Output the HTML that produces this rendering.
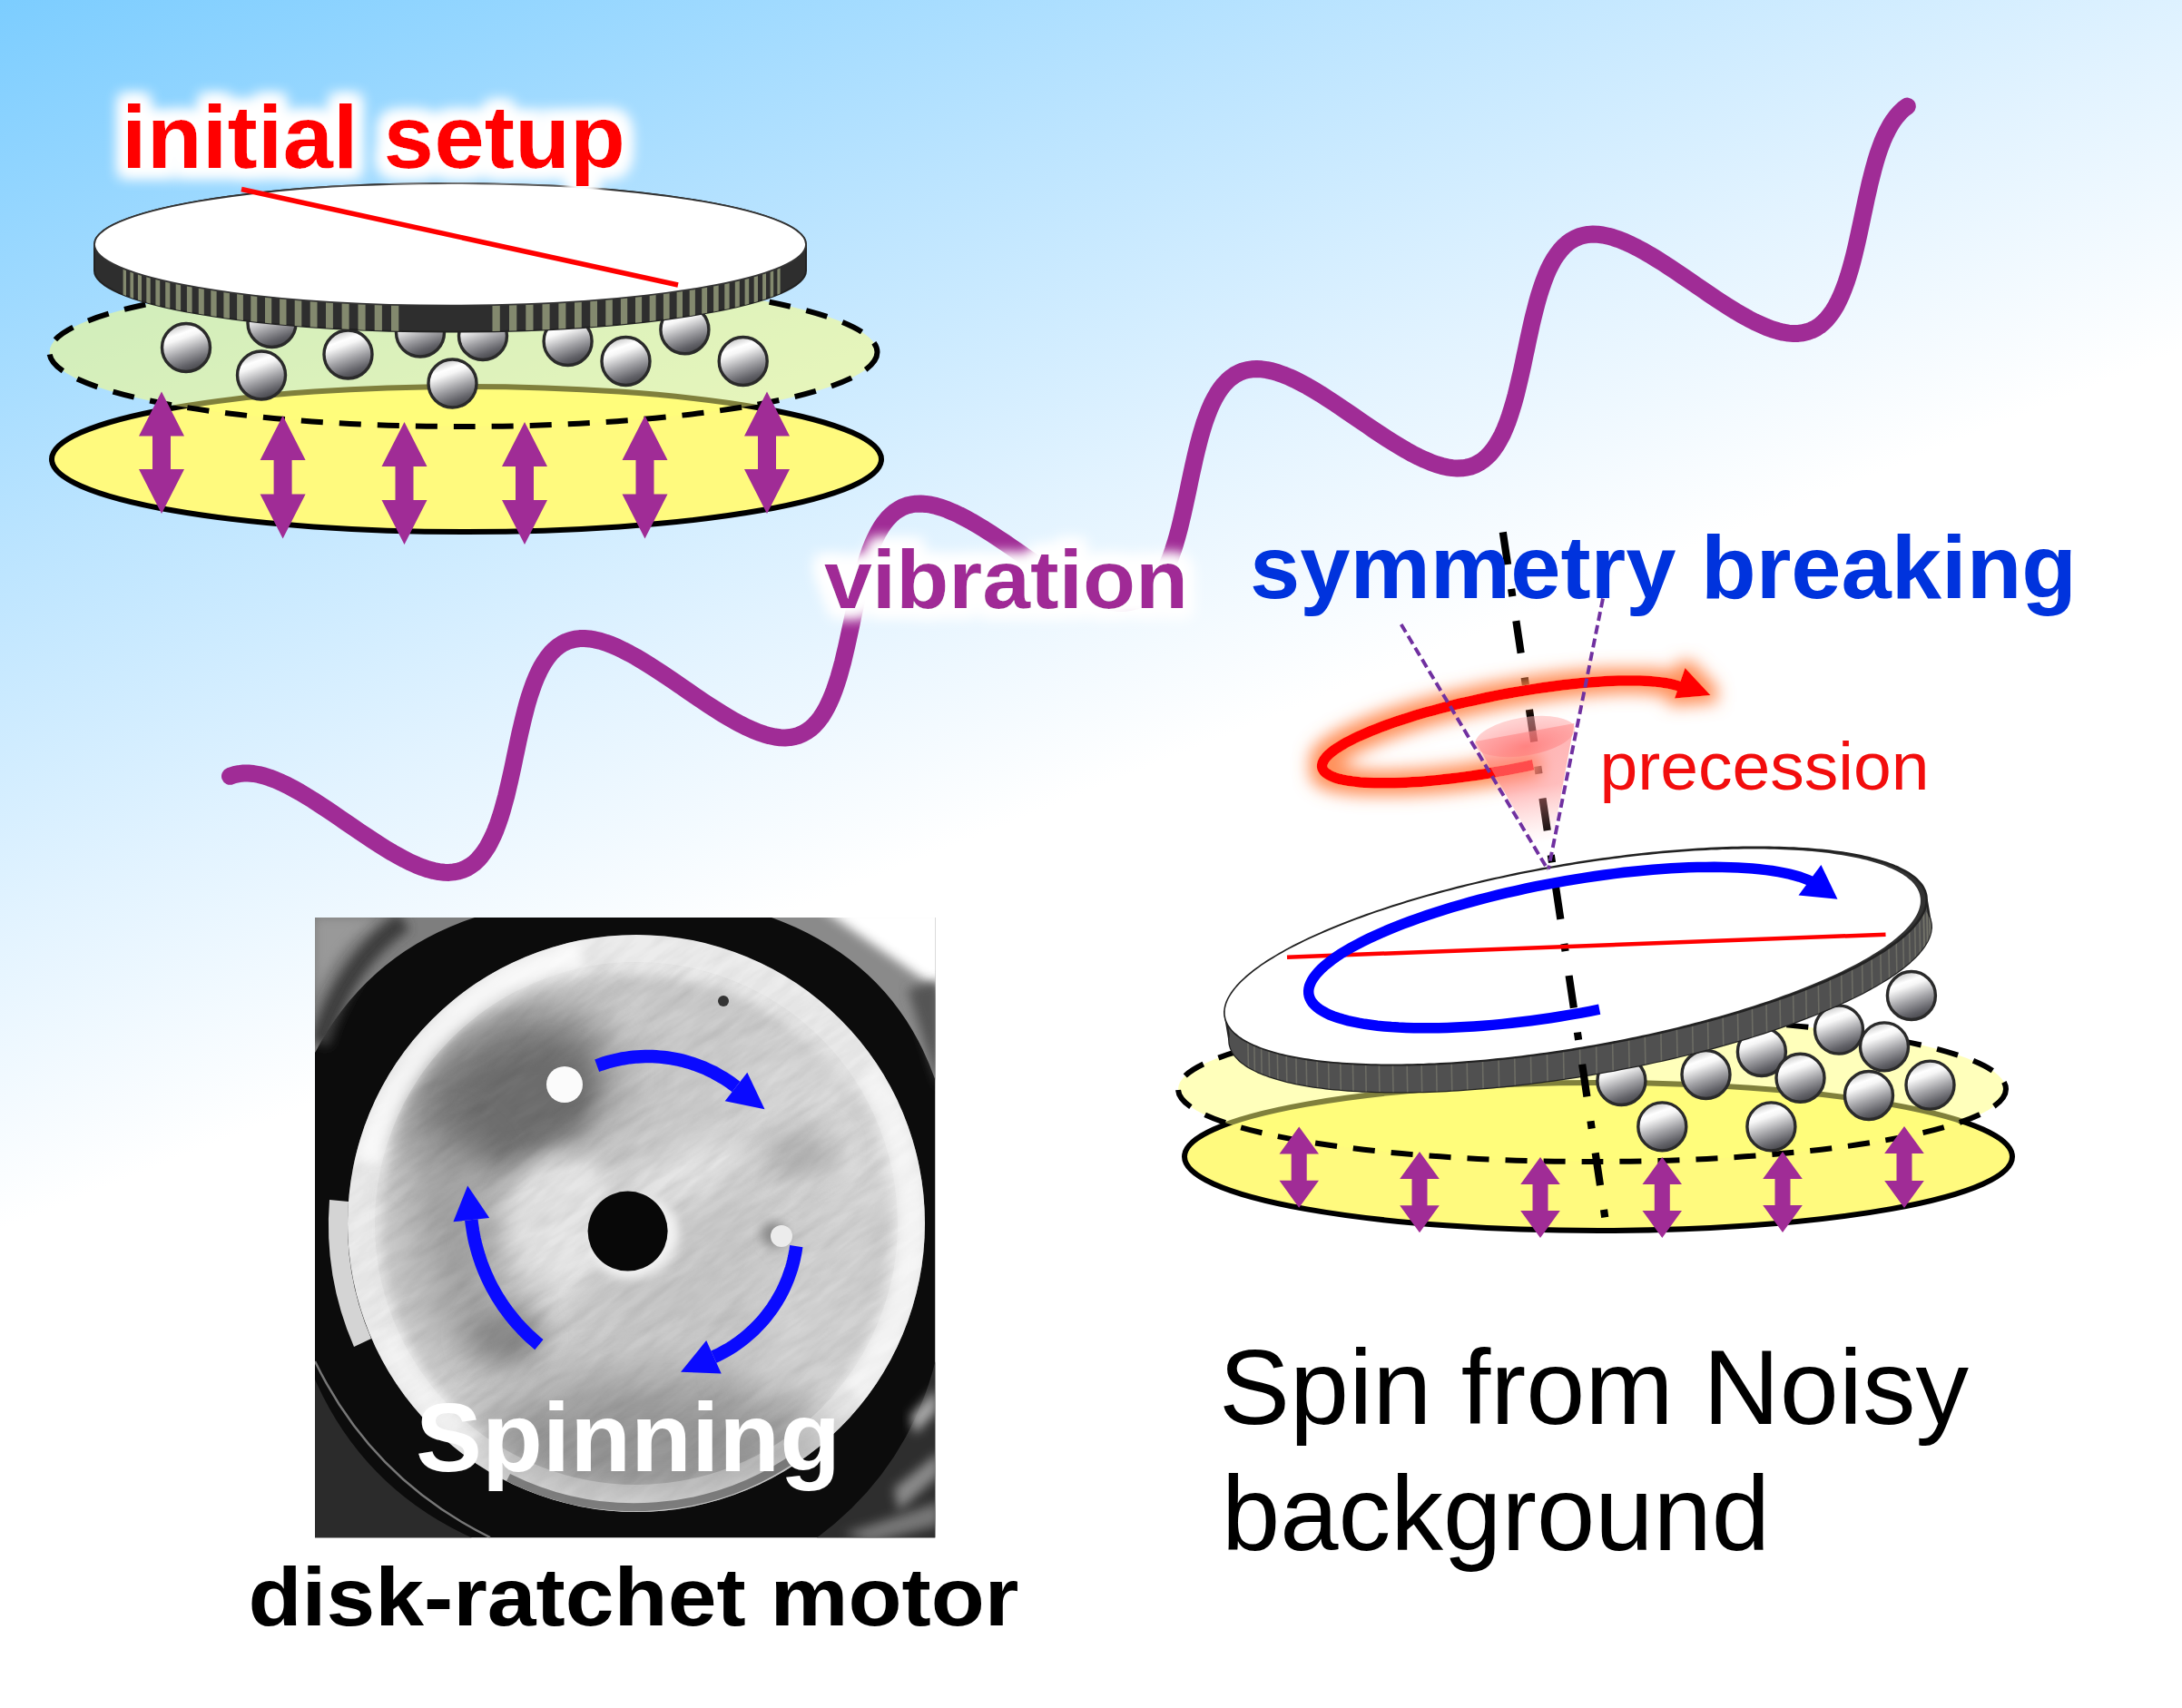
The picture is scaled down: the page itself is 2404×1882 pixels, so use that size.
<!DOCTYPE html>
<html><head><meta charset="utf-8"><title>Spin from Noisy background</title>
<style>html,body{margin:0;padding:0;background:#fff}svg{display:block}
text{font-family:"Liberation Sans",sans-serif}</style></head><body>
<svg width="2404" height="1882" viewBox="0 0 2404 1882">
<defs>
<linearGradient id="bg" gradientUnits="userSpaceOnUse" x1="0" y1="0" x2="470" y2="1166">
<stop offset="0" stop-color="#7ccdff"/><stop offset="0.45" stop-color="#bbe4ff"/><stop offset="0.75" stop-color="#e2f3ff"/><stop offset="1" stop-color="#ffffff"/></linearGradient>
<linearGradient id="ballg" x1="0.32" y1="0.02" x2="0.66" y2="0.98">
<stop offset="0" stop-color="#c4c4c4"/><stop offset="0.2" stop-color="#ffffff"/><stop offset="0.3" stop-color="#f6f6f6"/><stop offset="0.6" stop-color="#a2a2a6"/><stop offset="0.85" stop-color="#626268"/><stop offset="1" stop-color="#45454a"/></linearGradient>
<filter id="glowW" x="-10%" y="-40%" width="120%" height="180%">
<feMorphology in="SourceAlpha" operator="dilate" radius="9" result="d"/>
<feGaussianBlur in="d" stdDeviation="7.5" result="b"/>
<feFlood flood-color="#ffffff"/><feComposite in2="b" operator="in" result="g"/>
<feMerge><feMergeNode in="g"/><feMergeNode in="g"/><feMergeNode in="SourceGraphic"/></feMerge></filter>
<filter id="glowR" x="-20%" y="-60%" width="140%" height="220%">
<feMorphology in="SourceAlpha" operator="dilate" radius="8" result="d"/>
<feGaussianBlur in="d" stdDeviation="9" result="b"/>
<feFlood flood-color="#ff8448" flood-opacity="0.9"/><feComposite in2="b" operator="in" result="g"/>
<feMerge><feMergeNode in="g"/><feMergeNode in="SourceGraphic"/></feMerge></filter>
<linearGradient id="coneg" gradientUnits="userSpaceOnUse" x1="1680" y1="800" x2="1703" y2="935">
<stop offset="0" stop-color="#ff8080" stop-opacity="0.6"/><stop offset="0.5" stop-color="#ff8888" stop-opacity="0.55"/><stop offset="0.95" stop-color="#ffb0b0" stop-opacity="0"/></linearGradient>
<radialGradient id="conetop" cx="0.5" cy="0.75" r="0.7">
<stop offset="0" stop-color="#ff6060"/><stop offset="1" stop-color="#ffb0b0"/></radialGradient>
</defs>
<rect width="2404" height="1882" fill="url(#bg)"/>

<path d="M253.5 855.3 L258.2 853.6 L263.2 852.6 L268.3 852.0 L273.7 852.0 L279.2 852.5 L285.0 853.5 L291.0 855.0 L297.1 857.0 L303.5 859.4 L310.0 862.2 L316.6 865.4 L323.4 869.0 L330.4 872.9 L337.4 877.1 L344.6 881.5 L351.8 886.2 L359.1 891.0 L366.4 895.9 L373.8 901.0 L381.2 906.1 L388.6 911.1 L396.0 916.2 L403.4 921.2 L410.7 926.0 L418.0 930.7 L425.1 935.2 L432.2 939.5 L439.2 943.4 L446.0 947.1 L452.7 950.4 L459.2 953.3 L465.6 955.8 L471.8 957.9 L477.8 959.5 L483.6 960.6 L489.3 961.2 L494.7 961.4 L499.9 960.9 L504.9 960.0 L509.6 958.5 L514.2 956.5 L518.5 953.9 L522.7 950.8 L526.6 947.1 L530.3 942.9 L533.8 938.2 L537.1 933.1 L540.2 927.4 L543.1 921.4 L545.9 914.9 L548.5 908.0 L551.0 900.7 L553.3 893.2 L555.5 885.3 L557.7 877.2 L559.7 868.8 L561.7 860.3 L563.6 851.7 L565.5 842.9 L567.3 834.1 L569.2 825.3 L571.0 816.6 L572.9 807.9 L574.9 799.3 L576.9 790.9 L579.0 782.7 L581.1 774.7 L583.4 767.0 L585.9 759.7 L588.4 752.6 L591.1 746.0 L594.0 739.7 L597.0 733.9 L600.3 728.6 L603.7 723.7 L607.3 719.3 L611.1 715.5 L615.2 712.1 L619.4 709.3 L623.9 707.1 L628.6 705.4 L633.5 704.2 L638.6 703.6 L644.0 703.5 L649.5 703.9 L655.3 704.9 L661.2 706.3 L667.3 708.2 L673.6 710.5 L680.1 713.3 L686.7 716.5 L693.5 720.0 L700.4 723.8 L707.5 728.0 L714.6 732.4 L721.8 737.0 L729.1 741.8 L736.4 746.7 L743.8 751.7 L751.2 756.8 L758.6 761.9 L766.0 767.0 L773.4 772.0 L780.7 776.9 L788.0 781.6 L795.2 786.1 L802.3 790.4 L809.2 794.4 L816.1 798.1 L822.8 801.4 L829.4 804.4 L835.8 807.0 L842.0 809.1 L848.0 810.8 L853.9 812.0 L859.5 812.7 L865.0 812.9 L870.2 812.6 L875.2 811.7 L880.0 810.3 L884.6 808.3 L889.0 805.8 L893.2 802.8 L897.1 799.2 L900.8 795.1 L904.4 790.5 L907.7 785.4 L910.8 779.9 L913.8 773.8 L916.6 767.4 L919.2 760.6 L921.7 753.4 L924.1 745.9 L926.3 738.0 L928.5 729.9 L930.5 721.6 L932.5 713.1 L934.4 704.5 L936.3 695.8 L938.2 687.0 L940.0 678.2 L941.9 669.4 L943.8 660.7 L945.7 652.1 L947.7 643.7 L949.8 635.5 L951.9 627.5 L954.2 619.7 L956.6 612.3 L959.1 605.2 L961.8 598.5 L964.7 592.2 L967.7 586.3 L970.9 580.9 L974.3 575.9 L977.9 571.5 L981.7 567.6 L985.7 564.1 L989.9 561.3 L994.3 558.9 L999.0 557.1 L1003.9 555.9 L1009.0 555.2 L1014.3 555.0 L1019.8 555.4 L1025.5 556.2 L1031.4 557.6 L1037.5 559.4 L1043.8 561.7 L1050.2 564.4 L1056.9 567.5 L1063.6 571.0 L1070.5 574.8 L1077.5 578.9 L1084.6 583.2 L1091.8 587.8 L1099.1 592.6 L1106.5 597.5 L1113.8 602.5 L1121.2 607.6 L1128.6 612.7 L1136.0 617.8 L1143.4 622.8 L1150.7 627.7 L1158.0 632.4 L1165.2 637.0 L1172.3 641.3 L1179.3 645.3 L1186.2 649.1 L1192.9 652.5 L1199.5 655.5 L1205.9 658.2 L1212.2 660.4 L1218.2 662.1 L1224.1 663.4 L1229.8 664.2 L1235.3 664.5 L1240.6 664.2 L1245.6 663.4 L1250.5 662.1 L1255.1 660.2 L1259.5 657.8 L1263.7 654.8 L1267.6 651.3 L1271.4 647.3 L1275.0 642.8 L1278.3 637.8 L1281.5 632.3 L1284.5 626.3 L1287.3 619.9 L1290.0 613.2 L1292.5 606.0 L1294.9 598.5 L1297.1 590.8 L1299.3 582.7 L1301.3 574.4 L1303.3 566.0 L1305.2 557.4 L1307.1 548.7 L1309.0 539.9 L1310.8 531.1 L1312.7 522.3 L1314.6 513.6 L1316.5 505.0 L1318.5 496.5 L1320.6 488.2 L1322.7 480.2 L1325.0 472.4 L1327.3 464.9 L1329.9 457.8 L1332.5 451.0 L1335.3 444.6 L1338.3 438.7 L1341.5 433.2 L1344.9 428.2 L1348.4 423.7 L1352.2 419.7 L1356.2 416.2 L1360.4 413.2 L1364.8 410.8 L1369.4 408.9 L1374.2 407.6 L1379.3 406.8 L1384.6 406.6 L1390.0 406.8 L1395.7 407.6 L1401.6 408.9 L1407.7 410.7 L1413.9 412.9 L1420.4 415.5 L1427.0 418.5 L1433.7 422.0 L1440.6 425.7 L1447.6 429.8 L1454.7 434.1 L1461.9 438.7 L1469.1 443.4 L1476.5 448.3 L1483.8 453.3 L1491.2 458.4 L1498.6 463.5 L1506.0 468.5 L1513.4 473.6 L1520.8 478.5 L1528.0 483.2 L1535.2 487.8 L1542.4 492.2 L1549.4 496.3 L1556.3 500.1 L1563.0 503.5 L1569.6 506.6 L1576.1 509.3 L1582.4 511.6 L1588.5 513.4 L1594.4 514.8 L1600.1 515.6 L1605.6 516.0 L1610.9 515.8 L1616.0 515.1 L1620.9 513.9 L1625.5 512.1 L1629.9 509.7 L1634.2 506.9 L1638.2 503.4 L1642.0 499.5 L1645.6 495.0 L1648.9 490.1 L1652.1 484.7 L1655.2 478.8 L1658.0 472.5 L1660.7 465.8 L1663.2 458.7 L1665.6 451.2 L1667.9 443.5 L1670.1 435.5 L1672.1 427.2 L1674.1 418.8 L1676.1 410.2 L1678.0 401.5 L1679.8 392.7 L1681.7 383.9 L1683.5 375.2 L1685.4 366.4 L1687.3 357.8 L1689.3 349.3 L1691.4 341.0 L1693.5 332.9 L1695.7 325.1 L1698.1 317.6 L1700.6 310.4 L1703.2 303.6 L1706.0 297.1 L1709.0 291.1 L1712.1 285.5 L1715.5 280.5 L1719.0 275.9 L1722.7 271.8 L1726.7 268.2 L1730.8 265.2 L1735.2 262.7 L1739.8 260.7 L1744.6 259.3 L1749.6 258.4 L1754.9 258.1 L1760.3 258.3 L1766.0 259.0 L1771.8 260.2 L1777.9 261.9 L1784.1 264.0 L1790.5 266.6 L1797.1 269.6 L1803.8 273.0 L1810.6 276.7 L1817.6 280.7 L1824.7 285.0 L1831.9 289.5 L1839.1 294.2 L1846.5 299.1 L1853.8 304.1 L1861.2 309.1 L1868.6 314.2 L1876.0 319.3 L1883.4 324.4 L1890.8 329.3 L1898.1 334.1 L1905.3 338.7 L1912.4 343.1 L1919.4 347.2 L1926.3 351.1 L1933.1 354.6 L1939.8 357.7 L1946.2 360.5 L1952.5 362.8 L1958.7 364.7 L1964.6 366.2 L1970.4 367.1 L1975.9 367.5 L1981.2 367.4 L1986.3 366.8 L1991.2 365.6 L1995.9 363.9 L2000.4 361.7 L2004.7 358.9 L2008.7 355.5 L2012.5 351.7 L2016.1 347.3 L2019.6 342.4 L2022.8 337.1 L2025.8 331.2 L2028.7 325.0 L2031.4 318.3 L2034.0 311.3 L2036.4 303.9 L2038.7 296.2 L2040.9 288.2 L2043.0 280.0 L2045.0 271.6 L2046.9 263.1 L2048.8 254.4 L2050.7 245.6 L2052.5 236.8 L2054.4 228.0 L2056.2 219.3 L2058.2 210.6 L2060.1 202.1 L2062.2 193.8 L2064.3 185.7 L2066.5 177.8 L2068.8 170.2 L2071.3 163.0 L2073.9 156.1 L2076.7 149.6 L2079.7 143.5 L2082.8 137.9 L2086.1 132.7 L2089.6 128.1 L2093.3 123.9 L2097.2 120.2 L2101.3 117.1" fill="none" stroke="#a02c96" stroke-width="19" stroke-linecap="round" stroke-linejoin="round"/>
<g id="setupL">
<ellipse cx="514" cy="506" rx="457" ry="80" fill="#fffa7e" stroke="#000" stroke-width="6"/>
<ellipse cx="510.5" cy="388" rx="456" ry="82" fill="#ffff78" fill-opacity="0.5" stroke="none"/>
<ellipse cx="510.5" cy="388" rx="456" ry="82" fill="none" stroke="#000" stroke-width="6" stroke-dasharray="24 18"/>
<circle cx="205.0" cy="383.0" r="26.5" fill="url(#ballg)" stroke="#2a2a2a" stroke-width="3.4"/>
<circle cx="299.5" cy="356.0" r="26.5" fill="url(#ballg)" stroke="#2a2a2a" stroke-width="3.4"/>
<circle cx="288.0" cy="413.5" r="26.5" fill="url(#ballg)" stroke="#2a2a2a" stroke-width="3.4"/>
<circle cx="383.5" cy="390.5" r="26.5" fill="url(#ballg)" stroke="#2a2a2a" stroke-width="3.4"/>
<circle cx="463.0" cy="366.5" r="26.5" fill="url(#ballg)" stroke="#2a2a2a" stroke-width="3.4"/>
<circle cx="532.0" cy="370.0" r="26.5" fill="url(#ballg)" stroke="#2a2a2a" stroke-width="3.4"/>
<circle cx="498.5" cy="422.5" r="26.5" fill="url(#ballg)" stroke="#2a2a2a" stroke-width="3.4"/>
<circle cx="625.6" cy="376.0" r="26.5" fill="url(#ballg)" stroke="#2a2a2a" stroke-width="3.4"/>
<circle cx="689.5" cy="398.0" r="26.5" fill="url(#ballg)" stroke="#2a2a2a" stroke-width="3.4"/>
<circle cx="754.4" cy="363.3" r="26.5" fill="url(#ballg)" stroke="#2a2a2a" stroke-width="3.4"/>
<circle cx="818.7" cy="398.0" r="26.5" fill="url(#ballg)" stroke="#2a2a2a" stroke-width="3.4"/>
<path d="M104 269.3 A392 67.3 0 0 1 888 269.3 L888 298.3 A392 67.3 0 0 1 104 298.3 Z" fill="#2e2e2e" stroke="#222" stroke-width="2"/>
<clipPath id="rimL"><path d="M104 269.3 A392 67.3 0 0 1 888 269.3 L888 298.3 A392 67.3 0 0 1 104 298.3 Z"/></clipPath>
<g clip-path="url(#rimL)" fill="#8d9376" fill-opacity="0.9"><rect x="135.6" y="269.3" width="3.4" height="100.3"/><rect x="143.4" y="269.3" width="3.7" height="100.3"/><rect x="151.9" y="269.3" width="4.1" height="100.3"/><rect x="161.3" y="269.3" width="4.4" height="100.3"/><rect x="171.4" y="269.3" width="4.8" height="100.3"/><rect x="182.2" y="269.3" width="5.1" height="100.3"/><rect x="193.7" y="269.3" width="5.4" height="100.3"/><rect x="205.9" y="269.3" width="5.7" height="100.3"/><rect x="218.8" y="269.3" width="6.0" height="100.3"/><rect x="232.3" y="269.3" width="6.3" height="100.3"/><rect x="246.4" y="269.3" width="6.5" height="100.3"/><rect x="261.1" y="269.3" width="6.8" height="100.3"/><rect x="276.3" y="269.3" width="7.0" height="100.3"/><rect x="292.0" y="269.3" width="7.2" height="100.3"/><rect x="308.1" y="269.3" width="7.4" height="100.3"/><rect x="324.7" y="269.3" width="7.6" height="100.3"/><rect x="341.7" y="269.3" width="7.8" height="100.3"/><rect x="359.0" y="269.3" width="7.9" height="100.3"/><rect x="376.6" y="269.3" width="8.0" height="100.3"/><rect x="394.5" y="269.3" width="8.1" height="100.3"/><rect x="412.7" y="269.3" width="8.2" height="100.3"/><rect x="431.0" y="269.3" width="8.3" height="100.3"/><rect x="542.5" y="269.3" width="8.3" height="100.3"/><rect x="561.0" y="269.3" width="8.3" height="100.3"/><rect x="579.3" y="269.3" width="8.2" height="100.3"/><rect x="597.5" y="269.3" width="8.1" height="100.3"/><rect x="615.4" y="269.3" width="8.0" height="100.3"/><rect x="633.0" y="269.3" width="7.8" height="100.3"/><rect x="650.3" y="269.3" width="7.7" height="100.3"/><rect x="667.3" y="269.3" width="7.5" height="100.3"/><rect x="683.9" y="269.3" width="7.3" height="100.3"/><rect x="700.0" y="269.3" width="7.1" height="100.3"/><rect x="715.7" y="269.3" width="6.9" height="100.3"/><rect x="730.9" y="269.3" width="6.7" height="100.3"/><rect x="745.6" y="269.3" width="6.4" height="100.3"/><rect x="759.7" y="269.3" width="6.2" height="100.3"/><rect x="773.2" y="269.3" width="5.9" height="100.3"/><rect x="786.1" y="269.3" width="5.6" height="100.3"/><rect x="798.3" y="269.3" width="5.3" height="100.3"/><rect x="809.8" y="269.3" width="5.0" height="100.3"/><rect x="820.6" y="269.3" width="4.6" height="100.3"/><rect x="830.7" y="269.3" width="4.3" height="100.3"/><rect x="840.1" y="269.3" width="3.9" height="100.3"/><rect x="848.6" y="269.3" width="3.6" height="100.3"/><rect x="856.4" y="269.3" width="3.2" height="100.3"/></g>
<ellipse cx="496" cy="269.3" rx="392" ry="67.3" fill="#fff" stroke="#333" stroke-width="1.8"/>
<line x1="266" y1="208.5" x2="747" y2="314" stroke="#ff0000" stroke-width="5.5"/>
<polygon fill="#a02c96" points="178.0,431.5 203.0,480.5 188.0,480.5 188.0,517.0 203.0,517.0 178.0,566.0 153.0,517.0 168.0,517.0 168.0,480.5 153.0,480.5"/>
<polygon fill="#a02c96" points="311.6,458.0 336.6,507.0 321.6,507.0 321.6,544.5 336.6,544.5 311.6,593.5 286.6,544.5 301.6,544.5 301.6,507.0 286.6,507.0"/>
<polygon fill="#a02c96" points="445.5,465.0 470.5,514.0 455.5,514.0 455.5,551.0 470.5,551.0 445.5,600.0 420.5,551.0 435.5,551.0 435.5,514.0 420.5,514.0"/>
<polygon fill="#a02c96" points="578.0,465.0 603.0,514.0 588.0,514.0 588.0,551.0 603.0,551.0 578.0,600.0 553.0,551.0 568.0,551.0 568.0,514.0 553.0,514.0"/>
<polygon fill="#a02c96" points="710.5,458.0 735.5,507.0 720.5,507.0 720.5,544.5 735.5,544.5 710.5,593.5 685.5,544.5 700.5,544.5 700.5,507.0 685.5,507.0"/>
<polygon fill="#a02c96" points="845.0,431.5 870.0,480.5 855.0,480.5 855.0,517.0 870.0,517.0 845.0,566.0 820.0,517.0 835.0,517.0 835.0,480.5 820.0,480.5"/>
</g>
<g id="setupR">
<ellipse cx="1761" cy="1274.5" rx="456" ry="81.5" fill="#fffa7e" stroke="#000" stroke-width="6"/>
<ellipse cx="1754" cy="1200" rx="456" ry="80" fill="#ffff78" fill-opacity="0.5"/>
<ellipse cx="1754" cy="1200" rx="456" ry="80" fill="none" stroke="#000" stroke-width="6" stroke-dasharray="24 18"/>
<circle cx="1786.4" cy="1191.0" r="26.5" fill="url(#ballg)" stroke="#2a2a2a" stroke-width="3.4"/>
<circle cx="1879.5" cy="1184.0" r="26.5" fill="url(#ballg)" stroke="#2a2a2a" stroke-width="3.4"/>
<circle cx="1831.3" cy="1241.4" r="26.5" fill="url(#ballg)" stroke="#2a2a2a" stroke-width="3.4"/>
<circle cx="1940.9" cy="1159.0" r="26.5" fill="url(#ballg)" stroke="#2a2a2a" stroke-width="3.4"/>
<circle cx="1983.5" cy="1187.8" r="26.5" fill="url(#ballg)" stroke="#2a2a2a" stroke-width="3.4"/>
<circle cx="1951.4" cy="1241.4" r="26.5" fill="url(#ballg)" stroke="#2a2a2a" stroke-width="3.4"/>
<circle cx="2026.0" cy="1134.6" r="26.5" fill="url(#ballg)" stroke="#2a2a2a" stroke-width="3.4"/>
<circle cx="2076.0" cy="1153.4" r="26.5" fill="url(#ballg)" stroke="#2a2a2a" stroke-width="3.4"/>
<circle cx="2105.9" cy="1097.0" r="26.5" fill="url(#ballg)" stroke="#2a2a2a" stroke-width="3.4"/>
<circle cx="2059.0" cy="1207.0" r="26.5" fill="url(#ballg)" stroke="#2a2a2a" stroke-width="3.4"/>
<circle cx="2126.5" cy="1195.6" r="26.5" fill="url(#ballg)" stroke="#2a2a2a" stroke-width="3.4"/>
<polygon points="2127.3,1016.8 2127.5,1018.5 2127.6,1020.3 2127.7,1022.1 2127.5,1023.9 2127.3,1025.7 2127.0,1027.5 2126.5,1029.4 2125.9,1031.3 2125.2,1033.2 2124.4,1035.1 2123.5,1037.0 2122.4,1038.9 2121.2,1040.9 2120.0,1042.8 2118.6,1044.8 2117.1,1046.8 2115.4,1048.8 2113.7,1050.8 2111.8,1052.8 2109.9,1054.8 2107.8,1056.9 2105.6,1058.9 2103.3,1061.0 2100.9,1063.0 2098.4,1065.1 2095.7,1067.2 2093.0,1069.2 2090.1,1071.3 2087.2,1073.4 2084.1,1075.5 2081.0,1077.6 2077.7,1079.7 2074.3,1081.7 2070.9,1083.8 2067.3,1085.9 2063.6,1088.0 2059.8,1090.1 2056.0,1092.2 2052.0,1094.3 2048.0,1096.4 2043.8,1098.4 2039.6,1100.5 2035.2,1102.6 2030.8,1104.6 2026.3,1106.7 2021.7,1108.7 2017.0,1110.8 2012.2,1112.8 2007.4,1114.8 2002.5,1116.9 1997.5,1118.9 1992.4,1120.8 1987.2,1122.8 1982.0,1124.8 1976.6,1126.8 1971.3,1128.7 1965.8,1130.6 1960.3,1132.5 1954.7,1134.4 1949.0,1136.3 1943.3,1138.2 1937.5,1140.1 1931.7,1141.9 1925.8,1143.7 1919.8,1145.5 1913.8,1147.3 1907.8,1149.0 1901.6,1150.8 1895.5,1152.5 1889.3,1154.2 1883.0,1155.9 1876.7,1157.5 1870.4,1159.2 1864.0,1160.8 1857.6,1162.4 1851.1,1163.9 1844.6,1165.5 1838.1,1167.0 1831.6,1168.5 1825.0,1169.9 1818.4,1171.4 1811.8,1172.8 1805.1,1174.2 1798.5,1175.5 1791.8,1176.8 1785.1,1178.1 1778.4,1179.4 1771.7,1180.6 1764.9,1181.8 1758.2,1183.0 1751.4,1184.2 1744.7,1185.3 1738.0,1186.4 1731.2,1187.4 1724.5,1188.5 1717.7,1189.5 1711.0,1190.4 1704.3,1191.3 1697.6,1192.2 1690.9,1193.1 1684.2,1193.9 1677.5,1194.7 1670.9,1195.5 1664.2,1196.2 1657.6,1196.9 1651.1,1197.6 1644.5,1198.2 1638.0,1198.8 1631.5,1199.3 1625.0,1199.8 1618.6,1200.3 1612.2,1200.8 1605.9,1201.2 1599.6,1201.6 1593.3,1201.9 1587.1,1202.2 1581.0,1202.5 1574.8,1202.7 1568.8,1202.9 1562.7,1203.1 1556.8,1203.2 1550.9,1203.3 1545.0,1203.3 1539.2,1203.3 1533.5,1203.3 1527.9,1203.2 1522.3,1203.1 1516.7,1203.0 1511.3,1202.8 1505.9,1202.6 1500.6,1202.4 1495.3,1202.1 1490.1,1201.8 1485.0,1201.4 1480.0,1201.1 1475.1,1200.6 1470.2,1200.2 1465.4,1199.7 1460.7,1199.2 1456.1,1198.6 1451.6,1198.0 1447.2,1197.4 1442.8,1196.7 1438.6,1196.0 1434.4,1195.2 1430.4,1194.5 1426.4,1193.7 1422.5,1192.8 1418.7,1192.0 1415.1,1191.0 1411.5,1190.1 1408.0,1189.1 1404.6,1188.1 1401.4,1187.1 1398.2,1186.0 1395.1,1184.9 1392.1,1183.8 1389.3,1182.6 1386.5,1181.5 1383.9,1180.2 1381.4,1179.0 1378.9,1177.7 1376.6,1176.4 1374.4,1175.1 1372.3,1173.7 1370.4,1172.3 1368.5,1170.9 1366.7,1169.5 1365.1,1168.0 1363.6,1166.5 1362.2,1165.0 1360.9,1163.4 1359.7,1161.9 1358.6,1160.3 1357.7,1158.6 1356.9,1157.0 1356.1,1155.3 1355.6,1153.7 1355.1,1151.9 1354.7,1150.2 1354.5,1148.5 1354.4,1146.7 1354.3,1144.9 1354.5,1143.1 1354.7,1141.3 1355.0,1139.5 1355.5,1137.6 1356.1,1135.7 1356.8,1133.8 1357.6,1131.9 1358.5,1130.0 1359.6,1128.1 1360.8,1126.1 1362.0,1124.2 1363.4,1122.2 1364.9,1120.2 1366.6,1118.2 1368.3,1116.2 1370.2,1114.2 1372.1,1112.2 1374.2,1110.1 1376.4,1108.1 1378.7,1106.0 1381.1,1104.0 1383.6,1101.9 1386.3,1099.8 1389.0,1097.8 1391.9,1095.7 1394.8,1093.6 1397.9,1091.5 1401.0,1089.4 1404.3,1087.3 1407.7,1085.3 1411.1,1083.2 1414.7,1081.1 1418.4,1079.0 1422.2,1076.9 1426.0,1074.8 1430.0,1072.7 1434.0,1070.6 1438.2,1068.6 1442.4,1066.5 1446.8,1064.4 1451.2,1062.4 1455.7,1060.3 1460.3,1058.3 1465.0,1056.2 1469.8,1054.2 1474.6,1052.2 1479.5,1050.1 1484.5,1048.1 1489.6,1046.2 1494.8,1044.2 1500.0,1042.2 1505.4,1040.2 1510.7,1038.3 1516.2,1036.4 1521.7,1034.5 1527.3,1032.6 1533.0,1030.7 1538.7,1028.8 1544.5,1026.9 1550.3,1025.1 1556.2,1023.3 1562.2,1021.5 1568.2,1019.7 1574.2,1018.0 1580.4,1016.2 1586.5,1014.5 1592.7,1012.8 1599.0,1011.1 1605.3,1009.5 1611.6,1007.8 1618.0,1006.2 1624.4,1004.6 1630.9,1003.1 1637.4,1001.5 1643.9,1000.0 1650.4,998.5 1657.0,997.1 1663.6,995.6 1670.2,994.2 1676.9,992.8 1683.5,991.5 1690.2,990.2 1696.9,988.9 1703.6,987.6 1710.3,986.4 1717.1,985.2 1723.8,984.0 1730.6,982.8 1737.3,981.7 1744.0,980.6 1750.8,979.6 1757.5,978.5 1764.3,977.5 1771.0,976.6 1777.7,975.7 1784.4,974.8 1791.1,973.9 1797.8,973.1 1804.5,972.3 1811.1,971.5 1817.8,970.8 1824.4,970.1 1830.9,969.4 1837.5,968.8 1844.0,968.2 1850.5,967.7 1857.0,967.2 1863.4,966.7 1869.8,966.2 1876.1,965.8 1882.4,965.4 1888.7,965.1 1894.9,964.8 1901.0,964.5 1907.2,964.3 1913.2,964.1 1919.3,963.9 1925.2,963.8 1931.1,963.7 1937.0,963.7 1942.8,963.7 1948.5,963.7 1954.1,963.8 1959.7,963.9 1965.3,964.0 1970.7,964.2 1976.1,964.4 1981.4,964.6 1986.7,964.9 1991.9,965.2 1997.0,965.6 2002.0,965.9 2006.9,966.4 2011.8,966.8 2016.6,967.3 2021.3,967.8 2025.9,968.4 2030.4,969.0 2034.8,969.6 2039.2,970.3 2043.4,971.0 2047.6,971.8 2051.6,972.5 2055.6,973.3 2059.5,974.2 2063.3,975.0 2066.9,976.0 2070.5,976.9 2074.0,977.9 2077.4,978.9 2080.6,979.9 2083.8,981.0 2086.9,982.1 2089.9,983.2 2092.7,984.4 2095.5,985.5 2098.1,986.8 2100.6,988.0 2103.1,989.3 2105.4,990.6 2107.6,991.9 2109.7,993.3 2111.6,994.7 2113.5,996.1 2115.3,997.5 2116.9,999.0 2118.4,1000.5 2119.8,1002.0 2121.1,1003.6 2122.3,1005.1 2123.4,1006.7 2124.3,1008.4 2125.1,1010.0 2125.9,1011.7 2126.4,1013.3 2126.9,1015.1" fill="#505050" stroke="#222" stroke-width="2.5"/>
<polygon points="1349.3,1114.9 2122.7,992.1 2127.7,1022.1 1354.3,1144.9" fill="#505050" stroke="#222" stroke-width="2.5"/>
<polygon points="2127.3,1016.8 2127.5,1018.5 2127.6,1020.3 2127.7,1022.1 2127.5,1023.9 2127.3,1025.7 2127.0,1027.5 2126.5,1029.4 2125.9,1031.3 2125.2,1033.2 2124.4,1035.1 2123.5,1037.0 2122.4,1038.9 2121.2,1040.9 2120.0,1042.8 2118.6,1044.8 2117.1,1046.8 2115.4,1048.8 2113.7,1050.8 2111.8,1052.8 2109.9,1054.8 2107.8,1056.9 2105.6,1058.9 2103.3,1061.0 2100.9,1063.0 2098.4,1065.1 2095.7,1067.2 2093.0,1069.2 2090.1,1071.3 2087.2,1073.4 2084.1,1075.5 2081.0,1077.6 2077.7,1079.7 2074.3,1081.7 2070.9,1083.8 2067.3,1085.9 2063.6,1088.0 2059.8,1090.1 2056.0,1092.2 2052.0,1094.3 2048.0,1096.4 2043.8,1098.4 2039.6,1100.5 2035.2,1102.6 2030.8,1104.6 2026.3,1106.7 2021.7,1108.7 2017.0,1110.8 2012.2,1112.8 2007.4,1114.8 2002.5,1116.9 1997.5,1118.9 1992.4,1120.8 1987.2,1122.8 1982.0,1124.8 1976.6,1126.8 1971.3,1128.7 1965.8,1130.6 1960.3,1132.5 1954.7,1134.4 1949.0,1136.3 1943.3,1138.2 1937.5,1140.1 1931.7,1141.9 1925.8,1143.7 1919.8,1145.5 1913.8,1147.3 1907.8,1149.0 1901.6,1150.8 1895.5,1152.5 1889.3,1154.2 1883.0,1155.9 1876.7,1157.5 1870.4,1159.2 1864.0,1160.8 1857.6,1162.4 1851.1,1163.9 1844.6,1165.5 1838.1,1167.0 1831.6,1168.5 1825.0,1169.9 1818.4,1171.4 1811.8,1172.8 1805.1,1174.2 1798.5,1175.5 1791.8,1176.8 1785.1,1178.1 1778.4,1179.4 1771.7,1180.6 1764.9,1181.8 1758.2,1183.0 1751.4,1184.2 1744.7,1185.3 1738.0,1186.4 1731.2,1187.4 1724.5,1188.5 1717.7,1189.5 1711.0,1190.4 1704.3,1191.3 1697.6,1192.2 1690.9,1193.1 1684.2,1193.9 1677.5,1194.7 1670.9,1195.5 1664.2,1196.2 1657.6,1196.9 1651.1,1197.6 1644.5,1198.2 1638.0,1198.8 1631.5,1199.3 1625.0,1199.8 1618.6,1200.3 1612.2,1200.8 1605.9,1201.2 1599.6,1201.6 1593.3,1201.9 1587.1,1202.2 1581.0,1202.5 1574.8,1202.7 1568.8,1202.9 1562.7,1203.1 1556.8,1203.2 1550.9,1203.3 1545.0,1203.3 1539.2,1203.3 1533.5,1203.3 1527.9,1203.2 1522.3,1203.1 1516.7,1203.0 1511.3,1202.8 1505.9,1202.6 1500.6,1202.4 1495.3,1202.1 1490.1,1201.8 1485.0,1201.4 1480.0,1201.1 1475.1,1200.6 1470.2,1200.2 1465.4,1199.7 1460.7,1199.2 1456.1,1198.6 1451.6,1198.0 1447.2,1197.4 1442.8,1196.7 1438.6,1196.0 1434.4,1195.2 1430.4,1194.5 1426.4,1193.7 1422.5,1192.8 1418.7,1192.0 1415.1,1191.0 1411.5,1190.1 1408.0,1189.1 1404.6,1188.1 1401.4,1187.1 1398.2,1186.0 1395.1,1184.9 1392.1,1183.8 1389.3,1182.6 1386.5,1181.5 1383.9,1180.2 1381.4,1179.0 1378.9,1177.7 1376.6,1176.4 1374.4,1175.1 1372.3,1173.7 1370.4,1172.3 1368.5,1170.9 1366.7,1169.5 1365.1,1168.0 1363.6,1166.5 1362.2,1165.0 1360.9,1163.4 1359.7,1161.9 1358.6,1160.3 1357.7,1158.6 1356.9,1157.0 1356.1,1155.3 1355.6,1153.7 1355.1,1151.9 1354.7,1150.2 1354.5,1148.5 1354.4,1146.7 1354.3,1144.9 1354.5,1143.1 1354.7,1141.3 1355.0,1139.5 1355.5,1137.6 1356.1,1135.7 1356.8,1133.8 1357.6,1131.9 1358.5,1130.0 1359.6,1128.1 1360.8,1126.1 1362.0,1124.2 1363.4,1122.2 1364.9,1120.2 1366.6,1118.2 1368.3,1116.2 1370.2,1114.2 1372.1,1112.2 1374.2,1110.1 1376.4,1108.1 1378.7,1106.0 1381.1,1104.0 1383.6,1101.9 1386.3,1099.8 1389.0,1097.8 1391.9,1095.7 1394.8,1093.6 1397.9,1091.5 1401.0,1089.4 1404.3,1087.3 1407.7,1085.3 1411.1,1083.2 1414.7,1081.1 1418.4,1079.0 1422.2,1076.9 1426.0,1074.8 1430.0,1072.7 1434.0,1070.6 1438.2,1068.6 1442.4,1066.5 1446.8,1064.4 1451.2,1062.4 1455.7,1060.3 1460.3,1058.3 1465.0,1056.2 1469.8,1054.2 1474.6,1052.2 1479.5,1050.1 1484.5,1048.1 1489.6,1046.2 1494.8,1044.2 1500.0,1042.2 1505.4,1040.2 1510.7,1038.3 1516.2,1036.4 1521.7,1034.5 1527.3,1032.6 1533.0,1030.7 1538.7,1028.8 1544.5,1026.9 1550.3,1025.1 1556.2,1023.3 1562.2,1021.5 1568.2,1019.7 1574.2,1018.0 1580.4,1016.2 1586.5,1014.5 1592.7,1012.8 1599.0,1011.1 1605.3,1009.5 1611.6,1007.8 1618.0,1006.2 1624.4,1004.6 1630.9,1003.1 1637.4,1001.5 1643.9,1000.0 1650.4,998.5 1657.0,997.1 1663.6,995.6 1670.2,994.2 1676.9,992.8 1683.5,991.5 1690.2,990.2 1696.9,988.9 1703.6,987.6 1710.3,986.4 1717.1,985.2 1723.8,984.0 1730.6,982.8 1737.3,981.7 1744.0,980.6 1750.8,979.6 1757.5,978.5 1764.3,977.5 1771.0,976.6 1777.7,975.7 1784.4,974.8 1791.1,973.9 1797.8,973.1 1804.5,972.3 1811.1,971.5 1817.8,970.8 1824.4,970.1 1830.9,969.4 1837.5,968.8 1844.0,968.2 1850.5,967.7 1857.0,967.2 1863.4,966.7 1869.8,966.2 1876.1,965.8 1882.4,965.4 1888.7,965.1 1894.9,964.8 1901.0,964.5 1907.2,964.3 1913.2,964.1 1919.3,963.9 1925.2,963.8 1931.1,963.7 1937.0,963.7 1942.8,963.7 1948.5,963.7 1954.1,963.8 1959.7,963.9 1965.3,964.0 1970.7,964.2 1976.1,964.4 1981.4,964.6 1986.7,964.9 1991.9,965.2 1997.0,965.6 2002.0,965.9 2006.9,966.4 2011.8,966.8 2016.6,967.3 2021.3,967.8 2025.9,968.4 2030.4,969.0 2034.8,969.6 2039.2,970.3 2043.4,971.0 2047.6,971.8 2051.6,972.5 2055.6,973.3 2059.5,974.2 2063.3,975.0 2066.9,976.0 2070.5,976.9 2074.0,977.9 2077.4,978.9 2080.6,979.9 2083.8,981.0 2086.9,982.1 2089.9,983.2 2092.7,984.4 2095.5,985.5 2098.1,986.8 2100.6,988.0 2103.1,989.3 2105.4,990.6 2107.6,991.9 2109.7,993.3 2111.6,994.7 2113.5,996.1 2115.3,997.5 2116.9,999.0 2118.4,1000.5 2119.8,1002.0 2121.1,1003.6 2122.3,1005.1 2123.4,1006.7 2124.3,1008.4 2125.1,1010.0 2125.9,1011.7 2126.4,1013.3 2126.9,1015.1" fill="#505050"/>
<clipPath id="rimR"><polygon points="2127.3,1016.8 2127.5,1018.5 2127.6,1020.3 2127.7,1022.1 2127.5,1023.9 2127.3,1025.7 2127.0,1027.5 2126.5,1029.4 2125.9,1031.3 2125.2,1033.2 2124.4,1035.1 2123.5,1037.0 2122.4,1038.9 2121.2,1040.9 2120.0,1042.8 2118.6,1044.8 2117.1,1046.8 2115.4,1048.8 2113.7,1050.8 2111.8,1052.8 2109.9,1054.8 2107.8,1056.9 2105.6,1058.9 2103.3,1061.0 2100.9,1063.0 2098.4,1065.1 2095.7,1067.2 2093.0,1069.2 2090.1,1071.3 2087.2,1073.4 2084.1,1075.5 2081.0,1077.6 2077.7,1079.7 2074.3,1081.7 2070.9,1083.8 2067.3,1085.9 2063.6,1088.0 2059.8,1090.1 2056.0,1092.2 2052.0,1094.3 2048.0,1096.4 2043.8,1098.4 2039.6,1100.5 2035.2,1102.6 2030.8,1104.6 2026.3,1106.7 2021.7,1108.7 2017.0,1110.8 2012.2,1112.8 2007.4,1114.8 2002.5,1116.9 1997.5,1118.9 1992.4,1120.8 1987.2,1122.8 1982.0,1124.8 1976.6,1126.8 1971.3,1128.7 1965.8,1130.6 1960.3,1132.5 1954.7,1134.4 1949.0,1136.3 1943.3,1138.2 1937.5,1140.1 1931.7,1141.9 1925.8,1143.7 1919.8,1145.5 1913.8,1147.3 1907.8,1149.0 1901.6,1150.8 1895.5,1152.5 1889.3,1154.2 1883.0,1155.9 1876.7,1157.5 1870.4,1159.2 1864.0,1160.8 1857.6,1162.4 1851.1,1163.9 1844.6,1165.5 1838.1,1167.0 1831.6,1168.5 1825.0,1169.9 1818.4,1171.4 1811.8,1172.8 1805.1,1174.2 1798.5,1175.5 1791.8,1176.8 1785.1,1178.1 1778.4,1179.4 1771.7,1180.6 1764.9,1181.8 1758.2,1183.0 1751.4,1184.2 1744.7,1185.3 1738.0,1186.4 1731.2,1187.4 1724.5,1188.5 1717.7,1189.5 1711.0,1190.4 1704.3,1191.3 1697.6,1192.2 1690.9,1193.1 1684.2,1193.9 1677.5,1194.7 1670.9,1195.5 1664.2,1196.2 1657.6,1196.9 1651.1,1197.6 1644.5,1198.2 1638.0,1198.8 1631.5,1199.3 1625.0,1199.8 1618.6,1200.3 1612.2,1200.8 1605.9,1201.2 1599.6,1201.6 1593.3,1201.9 1587.1,1202.2 1581.0,1202.5 1574.8,1202.7 1568.8,1202.9 1562.7,1203.1 1556.8,1203.2 1550.9,1203.3 1545.0,1203.3 1539.2,1203.3 1533.5,1203.3 1527.9,1203.2 1522.3,1203.1 1516.7,1203.0 1511.3,1202.8 1505.9,1202.6 1500.6,1202.4 1495.3,1202.1 1490.1,1201.8 1485.0,1201.4 1480.0,1201.1 1475.1,1200.6 1470.2,1200.2 1465.4,1199.7 1460.7,1199.2 1456.1,1198.6 1451.6,1198.0 1447.2,1197.4 1442.8,1196.7 1438.6,1196.0 1434.4,1195.2 1430.4,1194.5 1426.4,1193.7 1422.5,1192.8 1418.7,1192.0 1415.1,1191.0 1411.5,1190.1 1408.0,1189.1 1404.6,1188.1 1401.4,1187.1 1398.2,1186.0 1395.1,1184.9 1392.1,1183.8 1389.3,1182.6 1386.5,1181.5 1383.9,1180.2 1381.4,1179.0 1378.9,1177.7 1376.6,1176.4 1374.4,1175.1 1372.3,1173.7 1370.4,1172.3 1368.5,1170.9 1366.7,1169.5 1365.1,1168.0 1363.6,1166.5 1362.2,1165.0 1360.9,1163.4 1359.7,1161.9 1358.6,1160.3 1357.7,1158.6 1356.9,1157.0 1356.1,1155.3 1355.6,1153.7 1355.1,1151.9 1354.7,1150.2 1354.5,1148.5 1354.4,1146.7 1354.3,1144.9 1354.5,1143.1 1354.7,1141.3 1355.0,1139.5 1355.5,1137.6 1356.1,1135.7 1356.8,1133.8 1357.6,1131.9 1358.5,1130.0 1359.6,1128.1 1360.8,1126.1 1362.0,1124.2 1363.4,1122.2 1364.9,1120.2 1366.6,1118.2 1368.3,1116.2 1370.2,1114.2 1372.1,1112.2 1374.2,1110.1 1376.4,1108.1 1378.7,1106.0 1381.1,1104.0 1383.6,1101.9 1386.3,1099.8 1389.0,1097.8 1391.9,1095.7 1394.8,1093.6 1397.9,1091.5 1401.0,1089.4 1404.3,1087.3 1407.7,1085.3 1411.1,1083.2 1414.7,1081.1 1418.4,1079.0 1422.2,1076.9 1426.0,1074.8 1430.0,1072.7 1434.0,1070.6 1438.2,1068.6 1442.4,1066.5 1446.8,1064.4 1451.2,1062.4 1455.7,1060.3 1460.3,1058.3 1465.0,1056.2 1469.8,1054.2 1474.6,1052.2 1479.5,1050.1 1484.5,1048.1 1489.6,1046.2 1494.8,1044.2 1500.0,1042.2 1505.4,1040.2 1510.7,1038.3 1516.2,1036.4 1521.7,1034.5 1527.3,1032.6 1533.0,1030.7 1538.7,1028.8 1544.5,1026.9 1550.3,1025.1 1556.2,1023.3 1562.2,1021.5 1568.2,1019.7 1574.2,1018.0 1580.4,1016.2 1586.5,1014.5 1592.7,1012.8 1599.0,1011.1 1605.3,1009.5 1611.6,1007.8 1618.0,1006.2 1624.4,1004.6 1630.9,1003.1 1637.4,1001.5 1643.9,1000.0 1650.4,998.5 1657.0,997.1 1663.6,995.6 1670.2,994.2 1676.9,992.8 1683.5,991.5 1690.2,990.2 1696.9,988.9 1703.6,987.6 1710.3,986.4 1717.1,985.2 1723.8,984.0 1730.6,982.8 1737.3,981.7 1744.0,980.6 1750.8,979.6 1757.5,978.5 1764.3,977.5 1771.0,976.6 1777.7,975.7 1784.4,974.8 1791.1,973.9 1797.8,973.1 1804.5,972.3 1811.1,971.5 1817.8,970.8 1824.4,970.1 1830.9,969.4 1837.5,968.8 1844.0,968.2 1850.5,967.7 1857.0,967.2 1863.4,966.7 1869.8,966.2 1876.1,965.8 1882.4,965.4 1888.7,965.1 1894.9,964.8 1901.0,964.5 1907.2,964.3 1913.2,964.1 1919.3,963.9 1925.2,963.8 1931.1,963.7 1937.0,963.7 1942.8,963.7 1948.5,963.7 1954.1,963.8 1959.7,963.9 1965.3,964.0 1970.7,964.2 1976.1,964.4 1981.4,964.6 1986.7,964.9 1991.9,965.2 1997.0,965.6 2002.0,965.9 2006.9,966.4 2011.8,966.8 2016.6,967.3 2021.3,967.8 2025.9,968.4 2030.4,969.0 2034.8,969.6 2039.2,970.3 2043.4,971.0 2047.6,971.8 2051.6,972.5 2055.6,973.3 2059.5,974.2 2063.3,975.0 2066.9,976.0 2070.5,976.9 2074.0,977.9 2077.4,978.9 2080.6,979.9 2083.8,981.0 2086.9,982.1 2089.9,983.2 2092.7,984.4 2095.5,985.5 2098.1,986.8 2100.6,988.0 2103.1,989.3 2105.4,990.6 2107.6,991.9 2109.7,993.3 2111.6,994.7 2113.5,996.1 2115.3,997.5 2116.9,999.0 2118.4,1000.5 2119.8,1002.0 2121.1,1003.6 2122.3,1005.1 2123.4,1006.7 2124.3,1008.4 2125.1,1010.0 2125.9,1011.7 2126.4,1013.3 2126.9,1015.1"/></clipPath>
<g clip-path="url(#rimR)" stroke="#77776c" stroke-width="1.6" stroke-opacity="0.7"><line x1="1370.5" y1="913.5" x2="1376.5" y2="1233.5"/><line x1="1377.4" y1="913.5" x2="1383.4" y2="1233.5"/><line x1="1385.1" y1="913.5" x2="1391.1" y2="1233.5"/><line x1="1393.5" y1="913.5" x2="1399.5" y2="1233.5"/><line x1="1402.7" y1="913.5" x2="1408.7" y2="1233.5"/><line x1="1412.6" y1="913.5" x2="1418.6" y2="1233.5"/><line x1="1423.2" y1="913.5" x2="1429.2" y2="1233.5"/><line x1="1434.4" y1="913.5" x2="1440.4" y2="1233.5"/><line x1="1446.3" y1="913.5" x2="1452.3" y2="1233.5"/><line x1="1458.8" y1="913.5" x2="1464.8" y2="1233.5"/><line x1="1471.9" y1="913.5" x2="1477.9" y2="1233.5"/><line x1="1485.6" y1="913.5" x2="1491.6" y2="1233.5"/><line x1="1499.8" y1="913.5" x2="1505.8" y2="1233.5"/><line x1="1514.5" y1="913.5" x2="1520.5" y2="1233.5"/><line x1="1529.6" y1="913.5" x2="1535.6" y2="1233.5"/><line x1="1545.3" y1="913.5" x2="1551.3" y2="1233.5"/><line x1="1561.3" y1="913.5" x2="1567.3" y2="1233.5"/><line x1="1577.7" y1="913.5" x2="1583.7" y2="1233.5"/><line x1="1594.4" y1="913.5" x2="1600.4" y2="1233.5"/><line x1="1611.4" y1="913.5" x2="1617.4" y2="1233.5"/><line x1="1628.7" y1="913.5" x2="1634.7" y2="1233.5"/><line x1="1646.3" y1="913.5" x2="1652.3" y2="1233.5"/><line x1="1664.0" y1="913.5" x2="1670.0" y2="1233.5"/><line x1="1681.8" y1="913.5" x2="1687.8" y2="1233.5"/><line x1="1699.8" y1="913.5" x2="1705.8" y2="1233.5"/><line x1="1717.9" y1="913.5" x2="1723.9" y2="1233.5"/><line x1="1736.0" y1="913.5" x2="1742.0" y2="1233.5"/><line x1="1754.1" y1="913.5" x2="1760.1" y2="1233.5"/><line x1="1772.2" y1="913.5" x2="1778.2" y2="1233.5"/><line x1="1790.2" y1="913.5" x2="1796.2" y2="1233.5"/><line x1="1808.0" y1="913.5" x2="1814.0" y2="1233.5"/><line x1="1825.7" y1="913.5" x2="1831.7" y2="1233.5"/><line x1="1843.3" y1="913.5" x2="1849.3" y2="1233.5"/><line x1="1860.6" y1="913.5" x2="1866.6" y2="1233.5"/><line x1="1877.6" y1="913.5" x2="1883.6" y2="1233.5"/><line x1="1894.3" y1="913.5" x2="1900.3" y2="1233.5"/><line x1="1910.7" y1="913.5" x2="1916.7" y2="1233.5"/><line x1="1926.7" y1="913.5" x2="1932.7" y2="1233.5"/><line x1="1942.4" y1="913.5" x2="1948.4" y2="1233.5"/><line x1="1957.5" y1="913.5" x2="1963.5" y2="1233.5"/><line x1="1972.2" y1="913.5" x2="1978.2" y2="1233.5"/><line x1="1986.4" y1="913.5" x2="1992.4" y2="1233.5"/><line x1="2000.1" y1="913.5" x2="2006.1" y2="1233.5"/><line x1="2013.2" y1="913.5" x2="2019.2" y2="1233.5"/><line x1="2025.7" y1="913.5" x2="2031.7" y2="1233.5"/><line x1="2037.6" y1="913.5" x2="2043.6" y2="1233.5"/><line x1="2048.8" y1="913.5" x2="2054.8" y2="1233.5"/><line x1="2059.4" y1="913.5" x2="2065.4" y2="1233.5"/><line x1="2069.3" y1="913.5" x2="2075.3" y2="1233.5"/><line x1="2078.5" y1="913.5" x2="2084.5" y2="1233.5"/><line x1="2086.9" y1="913.5" x2="2092.9" y2="1233.5"/><line x1="2094.6" y1="913.5" x2="2100.6" y2="1233.5"/><line x1="2101.5" y1="913.5" x2="2107.5" y2="1233.5"/><line x1="2107.7" y1="913.5" x2="2113.7" y2="1233.5"/><line x1="2113.0" y1="913.5" x2="2119.0" y2="1233.5"/><line x1="2117.6" y1="913.5" x2="2123.6" y2="1233.5"/><line x1="2121.3" y1="913.5" x2="2127.3" y2="1233.5"/><line x1="2124.2" y1="913.5" x2="2130.2" y2="1233.5"/><line x1="2126.3" y1="913.5" x2="2132.3" y2="1233.5"/><line x1="2127.6" y1="913.5" x2="2133.6" y2="1233.5"/><line x1="2128.0" y1="913.5" x2="2134.0" y2="1233.5"/><line x1="2127.6" y1="913.5" x2="2133.6" y2="1233.5"/><line x1="2126.3" y1="913.5" x2="2132.3" y2="1233.5"/><line x1="2124.2" y1="913.5" x2="2130.2" y2="1233.5"/><line x1="2121.3" y1="913.5" x2="2127.3" y2="1233.5"/><line x1="2117.6" y1="913.5" x2="2123.6" y2="1233.5"/></g>
<polygon points="2122.3,986.8 2122.5,988.5 2122.6,990.3 2122.7,992.1 2122.5,993.9 2122.3,995.7 2122.0,997.5 2121.5,999.4 2120.9,1001.3 2120.2,1003.2 2119.4,1005.1 2118.5,1007.0 2117.4,1008.9 2116.2,1010.9 2115.0,1012.8 2113.6,1014.8 2112.1,1016.8 2110.4,1018.8 2108.7,1020.8 2106.8,1022.8 2104.9,1024.8 2102.8,1026.9 2100.6,1028.9 2098.3,1031.0 2095.9,1033.0 2093.4,1035.1 2090.7,1037.2 2088.0,1039.2 2085.1,1041.3 2082.2,1043.4 2079.1,1045.5 2076.0,1047.6 2072.7,1049.7 2069.3,1051.7 2065.9,1053.8 2062.3,1055.9 2058.6,1058.0 2054.8,1060.1 2051.0,1062.2 2047.0,1064.3 2043.0,1066.4 2038.8,1068.4 2034.6,1070.5 2030.2,1072.6 2025.8,1074.6 2021.3,1076.7 2016.7,1078.7 2012.0,1080.8 2007.2,1082.8 2002.4,1084.8 1997.5,1086.9 1992.5,1088.9 1987.4,1090.8 1982.2,1092.8 1977.0,1094.8 1971.6,1096.8 1966.3,1098.7 1960.8,1100.6 1955.3,1102.5 1949.7,1104.4 1944.0,1106.3 1938.3,1108.2 1932.5,1110.1 1926.7,1111.9 1920.8,1113.7 1914.8,1115.5 1908.8,1117.3 1902.8,1119.0 1896.6,1120.8 1890.5,1122.5 1884.3,1124.2 1878.0,1125.9 1871.7,1127.5 1865.4,1129.2 1859.0,1130.8 1852.6,1132.4 1846.1,1133.9 1839.6,1135.5 1833.1,1137.0 1826.6,1138.5 1820.0,1139.9 1813.4,1141.4 1806.8,1142.8 1800.1,1144.2 1793.5,1145.5 1786.8,1146.8 1780.1,1148.1 1773.4,1149.4 1766.7,1150.6 1759.9,1151.8 1753.2,1153.0 1746.4,1154.2 1739.7,1155.3 1733.0,1156.4 1726.2,1157.4 1719.5,1158.5 1712.7,1159.5 1706.0,1160.4 1699.3,1161.3 1692.6,1162.2 1685.9,1163.1 1679.2,1163.9 1672.5,1164.7 1665.9,1165.5 1659.2,1166.2 1652.6,1166.9 1646.1,1167.6 1639.5,1168.2 1633.0,1168.8 1626.5,1169.3 1620.0,1169.8 1613.6,1170.3 1607.2,1170.8 1600.9,1171.2 1594.6,1171.6 1588.3,1171.9 1582.1,1172.2 1576.0,1172.5 1569.8,1172.7 1563.8,1172.9 1557.7,1173.1 1551.8,1173.2 1545.9,1173.3 1540.0,1173.3 1534.2,1173.3 1528.5,1173.3 1522.9,1173.2 1517.3,1173.1 1511.7,1173.0 1506.3,1172.8 1500.9,1172.6 1495.6,1172.4 1490.3,1172.1 1485.1,1171.8 1480.0,1171.4 1475.0,1171.1 1470.1,1170.6 1465.2,1170.2 1460.4,1169.7 1455.7,1169.2 1451.1,1168.6 1446.6,1168.0 1442.2,1167.4 1437.8,1166.7 1433.6,1166.0 1429.4,1165.2 1425.4,1164.5 1421.4,1163.7 1417.5,1162.8 1413.7,1162.0 1410.1,1161.0 1406.5,1160.1 1403.0,1159.1 1399.6,1158.1 1396.4,1157.1 1393.2,1156.0 1390.1,1154.9 1387.1,1153.8 1384.3,1152.6 1381.5,1151.5 1378.9,1150.2 1376.4,1149.0 1373.9,1147.7 1371.6,1146.4 1369.4,1145.1 1367.3,1143.7 1365.4,1142.3 1363.5,1140.9 1361.7,1139.5 1360.1,1138.0 1358.6,1136.5 1357.2,1135.0 1355.9,1133.4 1354.7,1131.9 1353.6,1130.3 1352.7,1128.6 1351.9,1127.0 1351.1,1125.3 1350.6,1123.7 1350.1,1121.9 1349.7,1120.2 1349.5,1118.5 1349.4,1116.7 1349.3,1114.9 1349.5,1113.1 1349.7,1111.3 1350.0,1109.5 1350.5,1107.6 1351.1,1105.7 1351.8,1103.8 1352.6,1101.9 1353.5,1100.0 1354.6,1098.1 1355.8,1096.1 1357.0,1094.2 1358.4,1092.2 1359.9,1090.2 1361.6,1088.2 1363.3,1086.2 1365.2,1084.2 1367.1,1082.2 1369.2,1080.1 1371.4,1078.1 1373.7,1076.0 1376.1,1074.0 1378.6,1071.9 1381.3,1069.8 1384.0,1067.8 1386.9,1065.7 1389.8,1063.6 1392.9,1061.5 1396.0,1059.4 1399.3,1057.3 1402.7,1055.3 1406.1,1053.2 1409.7,1051.1 1413.4,1049.0 1417.2,1046.9 1421.0,1044.8 1425.0,1042.7 1429.0,1040.6 1433.2,1038.6 1437.4,1036.5 1441.8,1034.4 1446.2,1032.4 1450.7,1030.3 1455.3,1028.3 1460.0,1026.2 1464.8,1024.2 1469.6,1022.2 1474.5,1020.1 1479.5,1018.1 1484.6,1016.2 1489.8,1014.2 1495.0,1012.2 1500.4,1010.2 1505.7,1008.3 1511.2,1006.4 1516.7,1004.5 1522.3,1002.6 1528.0,1000.7 1533.7,998.8 1539.5,996.9 1545.3,995.1 1551.2,993.3 1557.2,991.5 1563.2,989.7 1569.2,988.0 1575.4,986.2 1581.5,984.5 1587.7,982.8 1594.0,981.1 1600.3,979.5 1606.6,977.8 1613.0,976.2 1619.4,974.6 1625.9,973.1 1632.4,971.5 1638.9,970.0 1645.4,968.5 1652.0,967.1 1658.6,965.6 1665.2,964.2 1671.9,962.8 1678.5,961.5 1685.2,960.2 1691.9,958.9 1698.6,957.6 1705.3,956.4 1712.1,955.2 1718.8,954.0 1725.6,952.8 1732.3,951.7 1739.0,950.6 1745.8,949.6 1752.5,948.5 1759.3,947.5 1766.0,946.6 1772.7,945.7 1779.4,944.8 1786.1,943.9 1792.8,943.1 1799.5,942.3 1806.1,941.5 1812.8,940.8 1819.4,940.1 1825.9,939.4 1832.5,938.8 1839.0,938.2 1845.5,937.7 1852.0,937.2 1858.4,936.7 1864.8,936.2 1871.1,935.8 1877.4,935.4 1883.7,935.1 1889.9,934.8 1896.0,934.5 1902.2,934.3 1908.2,934.1 1914.3,933.9 1920.2,933.8 1926.1,933.7 1932.0,933.7 1937.8,933.7 1943.5,933.7 1949.1,933.8 1954.7,933.9 1960.3,934.0 1965.7,934.2 1971.1,934.4 1976.4,934.6 1981.7,934.9 1986.9,935.2 1992.0,935.6 1997.0,935.9 2001.9,936.4 2006.8,936.8 2011.6,937.3 2016.3,937.8 2020.9,938.4 2025.4,939.0 2029.8,939.6 2034.2,940.3 2038.4,941.0 2042.6,941.8 2046.6,942.5 2050.6,943.3 2054.5,944.2 2058.3,945.0 2061.9,946.0 2065.5,946.9 2069.0,947.9 2072.4,948.9 2075.6,949.9 2078.8,951.0 2081.9,952.1 2084.9,953.2 2087.7,954.4 2090.5,955.5 2093.1,956.8 2095.6,958.0 2098.1,959.3 2100.4,960.6 2102.6,961.9 2104.7,963.3 2106.6,964.7 2108.5,966.1 2110.3,967.5 2111.9,969.0 2113.4,970.5 2114.8,972.0 2116.1,973.6 2117.3,975.1 2118.4,976.7 2119.3,978.4 2120.1,980.0 2120.9,981.7 2121.4,983.3 2121.9,985.1" fill="#333" stroke="#222" stroke-width="2.5"/>
<polygon points="2115.5,987.9 2115.8,989.6 2115.9,991.4 2115.9,993.1 2115.8,994.9 2115.6,996.7 2115.2,998.5 2114.7,1000.4 2114.2,1002.2 2113.5,1004.1 2112.7,1006.0 2111.7,1007.9 2110.7,1009.8 2109.5,1011.7 2108.3,1013.6 2106.9,1015.6 2105.4,1017.6 2103.8,1019.5 2102.0,1021.5 2100.2,1023.5 2098.3,1025.5 2096.2,1027.5 2094.0,1029.5 2091.7,1031.6 2089.4,1033.6 2086.9,1035.6 2084.2,1037.7 2081.5,1039.7 2078.7,1041.8 2075.8,1043.9 2072.7,1045.9 2069.6,1048.0 2066.4,1050.1 2063.0,1052.1 2059.6,1054.2 2056.1,1056.3 2052.4,1058.3 2048.7,1060.4 2044.9,1062.5 2040.9,1064.5 2036.9,1066.6 2032.8,1068.6 2028.6,1070.7 2024.3,1072.7 2019.9,1074.8 2015.4,1076.8 2010.9,1078.8 2006.2,1080.8 2001.5,1082.8 1996.7,1084.8 1991.8,1086.8 1986.9,1088.8 1981.8,1090.8 1976.7,1092.8 1971.5,1094.7 1966.2,1096.6 1960.9,1098.6 1955.5,1100.5 1950.0,1102.4 1944.5,1104.2 1938.9,1106.1 1933.2,1108.0 1927.5,1109.8 1921.7,1111.6 1915.8,1113.4 1909.9,1115.2 1904.0,1117.0 1898.0,1118.7 1891.9,1120.4 1885.8,1122.1 1879.7,1123.8 1873.5,1125.5 1867.2,1127.1 1860.9,1128.7 1854.6,1130.3 1848.3,1131.9 1841.9,1133.4 1835.4,1135.0 1829.0,1136.4 1822.5,1137.9 1816.0,1139.4 1809.5,1140.8 1802.9,1142.2 1796.3,1143.6 1789.7,1144.9 1783.1,1146.2 1776.4,1147.5 1769.8,1148.7 1763.1,1150.0 1756.5,1151.2 1749.8,1152.3 1743.1,1153.5 1736.4,1154.6 1729.7,1155.7 1723.0,1156.7 1716.4,1157.7 1709.7,1158.7 1703.0,1159.7 1696.4,1160.6 1689.7,1161.5 1683.1,1162.3 1676.4,1163.2 1669.8,1163.9 1663.3,1164.7 1656.7,1165.4 1650.1,1166.1 1643.6,1166.8 1637.1,1167.4 1630.7,1168.0 1624.3,1168.5 1617.9,1169.0 1611.5,1169.5 1605.2,1169.9 1598.9,1170.4 1592.6,1170.7 1586.4,1171.1 1580.3,1171.4 1574.2,1171.6 1568.1,1171.9 1562.1,1172.1 1556.1,1172.2 1550.2,1172.3 1544.4,1172.4 1538.6,1172.5 1532.9,1172.5 1527.2,1172.5 1521.6,1172.4 1516.0,1172.3 1510.6,1172.2 1505.1,1172.0 1499.8,1171.8 1494.5,1171.6 1489.3,1171.3 1484.2,1171.0 1479.2,1170.7 1474.2,1170.3 1469.3,1169.9 1464.5,1169.4 1459.7,1168.9 1455.1,1168.4 1450.5,1167.9 1446.1,1167.3 1441.7,1166.6 1437.4,1166.0 1433.1,1165.3 1429.0,1164.6 1425.0,1163.8 1421.1,1163.0 1417.2,1162.2 1413.5,1161.3 1409.8,1160.4 1406.3,1159.5 1402.8,1158.5 1399.5,1157.6 1396.2,1156.5 1393.1,1155.5 1390.1,1154.4 1387.1,1153.3 1384.3,1152.1 1381.6,1151.0 1379.0,1149.8 1376.4,1148.5 1374.0,1147.3 1371.8,1146.0 1369.6,1144.7 1367.5,1143.3 1365.5,1141.9 1363.7,1140.5 1362.0,1139.1 1360.3,1137.7 1358.8,1136.2 1357.4,1134.7 1356.2,1133.2 1355.0,1131.6 1353.9,1130.0 1353.0,1128.4 1352.2,1126.8 1351.5,1125.2 1350.9,1123.5 1350.4,1121.8 1350.1,1120.1 1349.8,1118.4 1349.7,1116.6 1349.7,1114.9 1349.8,1113.1 1350.0,1111.3 1350.4,1109.5 1350.9,1107.6 1351.4,1105.8 1352.1,1103.9 1352.9,1102.0 1353.9,1100.1 1354.9,1098.2 1356.1,1096.3 1357.3,1094.4 1358.7,1092.4 1360.2,1090.4 1361.8,1088.5 1363.6,1086.5 1365.4,1084.5 1367.3,1082.5 1369.4,1080.5 1371.6,1078.5 1373.9,1076.4 1376.2,1074.4 1378.7,1072.4 1381.4,1070.3 1384.1,1068.3 1386.9,1066.2 1389.8,1064.1 1392.9,1062.1 1396.0,1060.0 1399.2,1057.9 1402.6,1055.9 1406.0,1053.8 1409.5,1051.7 1413.2,1049.7 1416.9,1047.6 1420.7,1045.5 1424.7,1043.5 1428.7,1041.4 1432.8,1039.4 1437.0,1037.3 1441.3,1035.3 1445.7,1033.2 1450.2,1031.2 1454.7,1029.2 1459.4,1027.2 1464.1,1025.2 1468.9,1023.2 1473.8,1021.2 1478.7,1019.2 1483.8,1017.2 1488.9,1015.2 1494.1,1013.3 1499.4,1011.4 1504.7,1009.4 1510.1,1007.5 1515.6,1005.6 1521.1,1003.8 1526.7,1001.9 1532.4,1000.0 1538.1,998.2 1543.9,996.4 1549.8,994.6 1555.7,992.8 1561.6,991.0 1567.6,989.3 1573.7,987.6 1579.8,985.9 1585.9,984.2 1592.1,982.5 1598.4,980.9 1604.7,979.3 1611.0,977.7 1617.3,976.1 1623.7,974.6 1630.2,973.0 1636.6,971.6 1643.1,970.1 1649.6,968.6 1656.1,967.2 1662.7,965.8 1669.3,964.4 1675.9,963.1 1682.5,961.8 1689.2,960.5 1695.8,959.3 1702.5,958.0 1709.1,956.8 1715.8,955.7 1722.5,954.5 1729.2,953.4 1735.9,952.3 1742.6,951.3 1749.2,950.3 1755.9,949.3 1762.6,948.3 1769.2,947.4 1775.9,946.5 1782.5,945.7 1789.2,944.8 1795.8,944.1 1802.3,943.3 1808.9,942.6 1815.5,941.9 1822.0,941.2 1828.5,940.6 1834.9,940.0 1841.3,939.5 1847.7,939.0 1854.1,938.5 1860.4,938.1 1866.7,937.6 1873.0,937.3 1879.2,936.9 1885.3,936.6 1891.4,936.4 1897.5,936.1 1903.5,935.9 1909.5,935.8 1915.4,935.7 1921.2,935.6 1927.0,935.5 1932.7,935.5 1938.4,935.5 1944.0,935.6 1949.6,935.7 1955.0,935.8 1960.5,936.0 1965.8,936.2 1971.1,936.4 1976.3,936.7 1981.4,937.0 1986.4,937.3 1991.4,937.7 1996.3,938.1 2001.1,938.6 2005.9,939.1 2010.5,939.6 2015.1,940.1 2019.5,940.7 2023.9,941.4 2028.2,942.0 2032.5,942.7 2036.6,943.4 2040.6,944.2 2044.5,945.0 2048.4,945.8 2052.1,946.7 2055.8,947.6 2059.3,948.5 2062.8,949.5 2066.1,950.4 2069.4,951.5 2072.5,952.5 2075.5,953.6 2078.5,954.7 2081.3,955.9 2084.0,957.0 2086.6,958.2 2089.2,959.5 2091.6,960.7 2093.8,962.0 2096.0,963.3 2098.1,964.7 2100.1,966.1 2101.9,967.5 2103.6,968.9 2105.3,970.3 2106.8,971.8 2108.2,973.3 2109.4,974.8 2110.6,976.4 2111.7,978.0 2112.6,979.6 2113.4,981.2 2114.1,982.8 2114.7,984.5 2115.2,986.2" fill="#fff"/>
</g>
<line x1="1655.8" y1="586.4" x2="1768.5" y2="1343" stroke="#000" stroke-width="8.2" stroke-dasharray="36 27.2 8.4 27.2" stroke-dashoffset="0"/>
<line x1="1418" y1="1054.7" x2="2077.5" y2="1029.7" stroke="#ff0000" stroke-width="4.5"/>
<path d="M1762.2 1112.2 L1751.4 1114.3 L1740.6 1116.3 L1729.8 1118.2 L1718.9 1120.0 L1708.1 1121.7 L1697.3 1123.2 L1686.6 1124.7 L1675.9 1126.0 L1665.3 1127.3 L1654.8 1128.4 L1644.4 1129.4 L1634.1 1130.2 L1623.9 1131.0 L1613.9 1131.6 L1604.1 1132.1 L1594.4 1132.5 L1584.9 1132.7 L1575.7 1132.8 L1566.6 1132.8 L1557.8 1132.7 L1549.2 1132.4 L1540.9 1132.1 L1532.8 1131.6 L1525.0 1130.9 L1517.6 1130.2 L1510.4 1129.3 L1503.5 1128.3 L1497.0 1127.2 L1490.7 1125.9 L1484.8 1124.6 L1479.3 1123.1 L1474.1 1121.5 L1469.3 1119.8 L1464.9 1118.1 L1460.8 1116.1 L1457.1 1114.1 L1453.8 1112.0 L1450.9 1109.8 L1448.3 1107.5 L1446.2 1105.2 L1444.5 1102.7 L1443.2 1100.1 L1442.3 1097.5 L1441.8 1094.8 L1441.7 1092.0 L1442.0 1089.2 L1442.7 1086.3 L1443.9 1083.3 L1445.4 1080.3 L1447.3 1077.2 L1449.7 1074.0 L1452.4 1070.9 L1455.5 1067.7 L1459.1 1064.4 L1463.0 1061.2 L1467.2 1057.9 L1471.9 1054.5 L1476.9 1051.2 L1482.3 1047.9 L1488.0 1044.5 L1494.1 1041.2 L1500.5 1037.8 L1507.2 1034.5 L1514.3 1031.2 L1521.6 1027.9 L1529.3 1024.6 L1537.2 1021.4 L1545.4 1018.2 L1553.9 1015.0 L1562.6 1011.8 L1571.5 1008.7 L1580.7 1005.7 L1590.1 1002.7 L1599.6 999.8 L1609.4 996.9 L1619.3 994.1 L1629.4 991.4 L1639.7 988.7 L1650.0 986.2 L1660.5 983.7 L1671.1 981.3 L1681.7 978.9 L1692.4 976.7 L1703.2 974.6 L1714.0 972.6 L1724.9 970.6 L1735.7 968.8 L1746.5 967.1 L1757.3 965.5 L1768.1 964.0 L1778.8 962.6 L1789.4 961.3 L1800.0 960.2 L1810.4 959.2 L1820.8 958.2 L1831.0 957.5 L1841.0 956.8 L1850.9 956.3 L1860.7 955.8 L1870.2 955.6 L1879.6 955.4 L1888.7 955.3 L1897.6 955.4 L1906.3 955.7 L1914.7 956.0 L1922.8 956.5 L1930.7 957.0 L1938.3 957.8 L1945.6 958.6 L1952.5 959.5 L1959.2 960.6 L1965.6 961.8 L1971.6 963.1 L1977.2 964.6 L1982.5 966.1 L1987.5 967.8 L1992.0 969.5 L1996.2 971.4 L2000.1 973.3" fill="none" stroke="#0000ff" stroke-width="11.5"/>
<polygon points="2006.4,953 1981.5,986.5 2024.5,990.8" fill="#0000ff"/>
<polygon fill="#a02c96" points="1431.2,1241.4 1453.0,1271.4 1439.7,1271.4 1439.7,1300.8 1453.0,1300.8 1431.2,1330.8 1409.5,1300.8 1422.7,1300.8 1422.7,1271.4 1409.5,1271.4"/>
<polygon fill="#a02c96" points="1564.0,1269.0 1585.8,1299.0 1572.5,1299.0 1572.5,1328.3 1585.8,1328.3 1564.0,1358.3 1542.2,1328.3 1555.5,1328.3 1555.5,1299.0 1542.2,1299.0"/>
<polygon fill="#a02c96" points="1697.0,1275.0 1718.8,1305.0 1705.5,1305.0 1705.5,1334.0 1718.8,1334.0 1697.0,1364.0 1675.2,1334.0 1688.5,1334.0 1688.5,1305.0 1675.2,1305.0"/>
<polygon fill="#a02c96" points="1831.3,1275.0 1853.0,1305.0 1839.8,1305.0 1839.8,1334.0 1853.0,1334.0 1831.3,1364.0 1809.5,1334.0 1822.8,1334.0 1822.8,1305.0 1809.5,1305.0"/>
<polygon fill="#a02c96" points="1964.0,1269.0 1985.8,1299.0 1972.5,1299.0 1972.5,1328.0 1985.8,1328.0 1964.0,1358.0 1942.2,1328.0 1955.5,1328.0 1955.5,1299.0 1942.2,1299.0"/>
<polygon fill="#a02c96" points="2098.0,1241.0 2119.8,1271.0 2106.5,1271.0 2106.5,1301.0 2119.8,1301.0 2098.0,1331.0 2076.2,1301.0 2089.5,1301.0 2089.5,1271.0 2076.2,1271.0"/>
<g filter="url(#glowR)">
<path d="M1689.1 842.7 L1681.5 844.3 L1673.8 845.9 L1666.1 847.4 L1658.4 848.8 L1650.7 850.2 L1643.1 851.5 L1635.4 852.8 L1627.8 854.0 L1620.2 855.1 L1612.7 856.1 L1605.2 857.1 L1597.8 858.0 L1590.6 858.8 L1583.4 859.6 L1576.3 860.3 L1569.3 860.9 L1562.5 861.4 L1555.8 861.8 L1549.3 862.2 L1542.9 862.5 L1536.7 862.7 L1530.7 862.8 L1524.8 862.8 L1519.2 862.8 L1513.7 862.7 L1508.5 862.5 L1503.4 862.2 L1498.6 861.9 L1494.1 861.4 L1489.7 860.9 L1485.6 860.3 L1481.8 859.6 L1478.2 858.9 L1474.9 858.1 L1471.8 857.2 L1469.0 856.2 L1466.5 855.1 L1464.3 854.0 L1462.3 852.8 L1460.7 851.6 L1459.3 850.3 L1458.2 848.9 L1457.4 847.5 L1456.8 846.0 L1456.6 844.4 L1456.7 842.8 L1457.0 841.2 L1457.7 839.5 L1458.6 837.7 L1459.8 835.9 L1461.3 834.1 L1463.1 832.2 L1465.2 830.3 L1467.5 828.3 L1470.2 826.3 L1473.1 824.3 L1476.2 822.3 L1479.7 820.2 L1483.3 818.1 L1487.3 816.1 L1491.5 813.9 L1495.9 811.8 L1500.6 809.7 L1505.5 807.6 L1510.6 805.4 L1515.9 803.3 L1521.4 801.2 L1527.2 799.0 L1533.1 796.9 L1539.2 794.8 L1545.5 792.7 L1551.9 790.7 L1558.5 788.6 L1565.3 786.6 L1572.2 784.6 L1579.2 782.7 L1586.3 780.8 L1593.5 778.9 L1600.8 777.0 L1608.3 775.2 L1615.7 773.5 L1623.3 771.8 L1630.9 770.1 L1638.5 768.5 L1646.2 766.9 L1653.9 765.4 L1661.6 764.0 L1669.3 762.6 L1677.0 761.3 L1684.6 760.1 L1692.3 758.9 L1699.8 757.7 L1707.4 756.7 L1714.8 755.7 L1722.2 754.8 L1729.5 754.0 L1736.7 753.2 L1743.7 752.6 L1750.7 752.0 L1757.5 751.4 L1764.2 751.0 L1770.8 750.6 L1777.1 750.3 L1783.4 750.1 L1789.4 750.0 L1795.2 750.0 L1800.9 750.0 L1806.4 750.1 L1811.6 750.3 L1816.6 750.6 L1821.5 750.9 L1826.0 751.4 L1830.4 751.9 L1834.5 752.5 L1838.3 753.2 L1841.9 753.9 L1845.2 754.7 L1848.3 755.6 L1851.1 756.6" fill="none" stroke="#ff0000" stroke-width="11.5"/>
<polygon points="1856.5,736 1845,769.5 1884.5,766" fill="#ff0000"/>
</g>
<path d="M1625.5 817 L1705 955 L1734.5 797 Z" fill="url(#coneg)"/>
<ellipse cx="1680" cy="811.5" rx="55.5" ry="21" transform="rotate(-9.5 1680 811.5)" fill="url(#conetop)" fill-opacity="0.55"/>
<line x1="1543.7" y1="688" x2="1705.5" y2="958.5" stroke="#7030a0" stroke-width="3.9" stroke-dasharray="10 5"/>
<line x1="1766" y1="659.5" x2="1706" y2="957.5" stroke="#7030a0" stroke-width="3.9" stroke-dasharray="10 5"/>
<clipPath id="pclip"><rect x="347" y="1011" width="683.5" height="683.5"/></clipPath>
<clipPath id="dclip"><circle cx="701" cy="1348" r="318"/></clipPath>
<filter id="b6" x="-30%" y="-30%" width="160%" height="160%"><feGaussianBlur stdDeviation="6"/></filter>
<filter id="b14" x="-50%" y="-50%" width="200%" height="200%"><feGaussianBlur stdDeviation="14"/></filter>
<filter id="b28" x="-60%" y="-60%" width="220%" height="220%"><feGaussianBlur stdDeviation="28"/></filter>
<filter id="grain" x="0" y="0" width="100%" height="100%"><feTurbulence type="fractalNoise" baseFrequency="0.02 0.09" numOctaves="3" seed="7" result="n"/><feColorMatrix in="n" type="matrix" values="0 0 0 0 0  0 0 0 0 0  0 0 0 0 0  0.9 0.9 0 0 -0.62"/></filter>
<g clip-path="url(#pclip)">
<rect x="347" y="1011" width="683.5" height="683.5" fill="#0c0c0c"/>
<path d="M347 1011 L523 1011 Q405 1050 347 1160 Z" fill="#7e7e7e"/>
<path d="M347 1011 L420 1011 Q370 1040 347 1100 Z" fill="#999" filter="url(#b6)"/>
<path d="M445 1015 Q380 1060 352 1150" stroke="#3c3c3c" stroke-width="22" fill="none" filter="url(#b6)"/>
<path d="M850 1011 L1030.5 1011 L1030.5 1190 Q985 1060 850 1011 Z" fill="#8a8a8a"/>
<path d="M903 1000 L1045 1000 L1045 1098 Q978 1052 903 1000 Z" fill="#ffffff" filter="url(#b6)"/>
<path d="M1000 1090 L1035 1080 L1035 1200 Z" fill="#555" filter="url(#b6)"/>
<path d="M1030.5 1500 L1030.5 1694.5 L900 1694.5 Q1000 1620 1030.5 1500 Z" fill="#2e2e2e"/>
<path d="M985 1640 L1035 1600 L1035 1625 L990 1665 Z" fill="#8a8a8a" filter="url(#b6)"/>
<path d="M930 1690 L1035 1655 L1035 1680 L960 1700 Z" fill="#777" filter="url(#b6)"/>
<path d="M1003 1560 L1032 1530 L1032 1555 L1008 1580 Z" fill="#aaa" filter="url(#b6)"/>
<path d="M347 1520 Q400 1640 520 1694.5 L347 1694.5 Z" fill="#2b2b2b"/>
<path d="M347 1500 Q410 1630 540 1694" stroke="#777" stroke-width="2.5" fill="none"/>
<path d="M 363.0 1322 A 339 339 0 0 0 390 1484 L 409 1475 A 318 318 0 0 1 384 1324 Z" fill="#d4d4d4"/>
<circle cx="701" cy="1348" r="318" fill="#e9e9e9"/>
<g clip-path="url(#dclip)">
<circle cx="699" cy="1352" r="278" fill="#cdcdcd" filter="url(#b6)"/>
<ellipse cx="560" cy="1205" rx="120" ry="85" transform="rotate(-25 560 1205)" fill="#787878" filter="url(#b28)"/>
<ellipse cx="575" cy="1215" rx="80" ry="55" transform="rotate(-25 575 1215)" fill="#707070" filter="url(#b14)"/>
<ellipse cx="505" cy="1370" rx="45" ry="120" transform="rotate(-8 505 1370)" fill="#a2a2a2" filter="url(#b28)"/>
<ellipse cx="556" cy="1472" rx="42" ry="34" fill="#8c8c8c" filter="url(#b14)"/>
<ellipse cx="725" cy="1590" rx="200" ry="70" fill="#989898" filter="url(#b28)"/>
<ellipse cx="900" cy="1250" rx="70" ry="110" transform="rotate(-30 900 1250)" fill="#dcdcdc" filter="url(#b28)"/>
<ellipse cx="905" cy="1440" rx="60" ry="110" transform="rotate(25 905 1440)" fill="#d4d4d4" filter="url(#b28)"/>
<ellipse cx="880" cy="1270" rx="45" ry="28" fill="#b6b6b6" filter="url(#b14)"/>
<ellipse cx="622" cy="1350" rx="66" ry="80" fill="#e6e6e6" filter="url(#b14)"/>
<ellipse cx="760" cy="1290" rx="70" ry="28" transform="rotate(-25 760 1290)" fill="#e6e6e6" filter="url(#b14)"/>
<ellipse cx="735" cy="1430" rx="90" ry="40" fill="#c9c9c9" filter="url(#b14)"/>
<rect x="347" y="1011" width="683.5" height="683.5" fill="#000" filter="url(#grain)" opacity="0.10" transform="rotate(-35 701 1348)"/>
</g>
<g clip-path="url(#dclip)">
<circle cx="701" cy="1348" r="303" fill="none" stroke="#f4f4f4" stroke-width="30" stroke-opacity="0.3"/>
<path d="M 955 1183 A 303 303 0 0 1 940 1535" fill="none" stroke="#ffffff" stroke-width="28" stroke-opacity="0.55" filter="url(#b6)"/>
<path d="M 425 1470 A 303 303 0 0 0 520 1590" fill="none" stroke="#ffffff" stroke-width="24" stroke-opacity="0.4" filter="url(#b6)"/>
<path d="M 560 1628 A 312 312 0 0 0 880 1603" fill="none" stroke="#5a5a5a" stroke-width="9" stroke-opacity="0.7"/>
<path d="M 640 1051 A 303 303 0 0 0 405 1280" fill="none" stroke="#ffffff" stroke-width="26" stroke-opacity="0.75" filter="url(#b6)"/>
</g>
<ellipse cx="700" cy="1364" rx="50" ry="44" transform="rotate(-30 700 1364)" fill="#f2f2f2" filter="url(#b6)"/>
<circle cx="691.6" cy="1356.6" r="44" fill="#080808"/>
<circle cx="622" cy="1195" r="20" fill="#fbfbfb"/>
<circle cx="852" cy="1360" r="14" fill="#8a8a8a" filter="url(#b6)"/>
<circle cx="861" cy="1362" r="12" fill="#ececec"/>
<circle cx="797" cy="1103" r="6" fill="#333"/>
</g>
<path d="M657.7 1174.2 L661.6 1172.8 L665.5 1171.5 L669.5 1170.3 L673.5 1169.2 L677.5 1168.2 L681.6 1167.3 L685.7 1166.5 L689.8 1165.8 L693.9 1165.2 L698.0 1164.8 L702.2 1164.4 L706.3 1164.2 L710.5 1164.0 L714.6 1164.0 L718.8 1164.1 L722.9 1164.3 L727.1 1164.6 L731.2 1165.0 L735.3 1165.5 L739.4 1166.1 L743.5 1166.9 L747.6 1167.7 L751.7 1168.6 L755.7 1169.7 L759.7 1170.9 L763.6 1172.1 L767.5 1173.5 L771.4 1175.0 L775.3 1176.5 L779.1 1178.2 L782.8 1180.0 L786.6 1181.8 L790.2 1183.8 L793.8 1185.9 L797.4 1188.0 L800.9 1190.3 L804.3 1192.6 L807.7 1195.0 L811.0 1197.5" fill="none" stroke="#0a0aff" stroke-width="14.5"/><polygon fill="#0a0aff" points="823.3,1181.8 842.5,1222.2 798.7,1213.3"/>
<path d="M877.3 1373.2 L876.7 1377.2 L876.0 1381.2 L875.2 1385.2 L874.3 1389.2 L873.3 1393.1 L872.2 1397.0 L870.9 1400.9 L869.6 1404.7 L868.2 1408.6 L866.7 1412.3 L865.1 1416.1 L863.4 1419.8 L861.6 1423.4 L859.7 1427.0 L857.7 1430.6 L855.6 1434.1 L853.4 1437.5 L851.2 1440.9 L848.8 1444.2 L846.4 1447.5 L843.9 1450.7 L841.3 1453.8 L838.6 1456.9 L835.8 1459.9 L833.0 1462.8 L830.1 1465.7 L827.1 1468.4 L824.0 1471.1 L820.9 1473.7 L817.7 1476.3 L814.5 1478.7 L811.2 1481.1 L807.8 1483.4 L804.4 1485.6 L800.9 1487.7 L797.3 1489.7 L793.7 1491.6 L790.1 1493.4 L786.4 1495.1" fill="none" stroke="#0a0aff" stroke-width="14.5"/><polygon fill="#0a0aff" points="794.7,1513.4 750.0,1511.7 778.2,1476.9"/>
<path d="M593.9 1481.6 L590.8 1479.0 L587.7 1476.3 L584.6 1473.5 L581.6 1470.7 L578.7 1467.8 L575.8 1464.9 L573.0 1461.9 L570.2 1458.9 L567.5 1455.8 L564.9 1452.6 L562.3 1449.4 L559.8 1446.2 L557.3 1442.8 L554.9 1439.5 L552.6 1436.1 L550.4 1432.6 L548.2 1429.2 L546.1 1425.6 L544.1 1422.0 L542.1 1418.4 L540.2 1414.8 L538.4 1411.1 L536.7 1407.4 L535.0 1403.6 L533.4 1399.8 L531.9 1396.0 L530.4 1392.1 L529.1 1388.2 L527.8 1384.3 L526.6 1380.4 L525.5 1376.5 L524.4 1372.5 L523.4 1368.5 L522.5 1364.5 L521.7 1360.4 L521.0 1356.4 L520.4 1352.3 L519.8 1348.2 L519.3 1344.2" fill="none" stroke="#0a0aff" stroke-width="14.5"/><polygon fill="#0a0aff" points="499.4,1346.3 515.2,1306.4 539.2,1342.0"/>
<text x="458" y="1620.5" font-size="108" font-weight="bold" fill="#fff" textLength="468" lengthAdjust="spacingAndGlyphs">Spinning</text>
<text x="134" y="184.7" font-size="98" font-weight="bold" fill="#ff0000" filter="url(#glowW)" textLength="555" lengthAdjust="spacingAndGlyphs">initial setup</text>
<text x="908" y="669.5" font-size="91" font-weight="bold" fill="#a02c96" filter="url(#glowW)" textLength="401" lengthAdjust="spacingAndGlyphs">vibration</text>
<text x="1377" y="658.5" font-size="98" font-weight="bold" fill="#0033dd" textLength="911" lengthAdjust="spacingAndGlyphs">symmetry breaking</text>
<text x="1762.5" y="870" font-size="74.5" fill="#f20d0d" textLength="363" lengthAdjust="spacingAndGlyphs">precession</text>
<text x="1343" y="1569.2" font-size="116" fill="#000" textLength="826" lengthAdjust="spacingAndGlyphs">Spin from Noisy</text>
<text x="1346" y="1708" font-size="116" fill="#000" textLength="604" lengthAdjust="spacingAndGlyphs">background</text>
<text x="273.5" y="1791" font-size="91" font-weight="bold" fill="#000" textLength="849" lengthAdjust="spacingAndGlyphs">disk-ratchet motor</text>
</svg></body></html>
